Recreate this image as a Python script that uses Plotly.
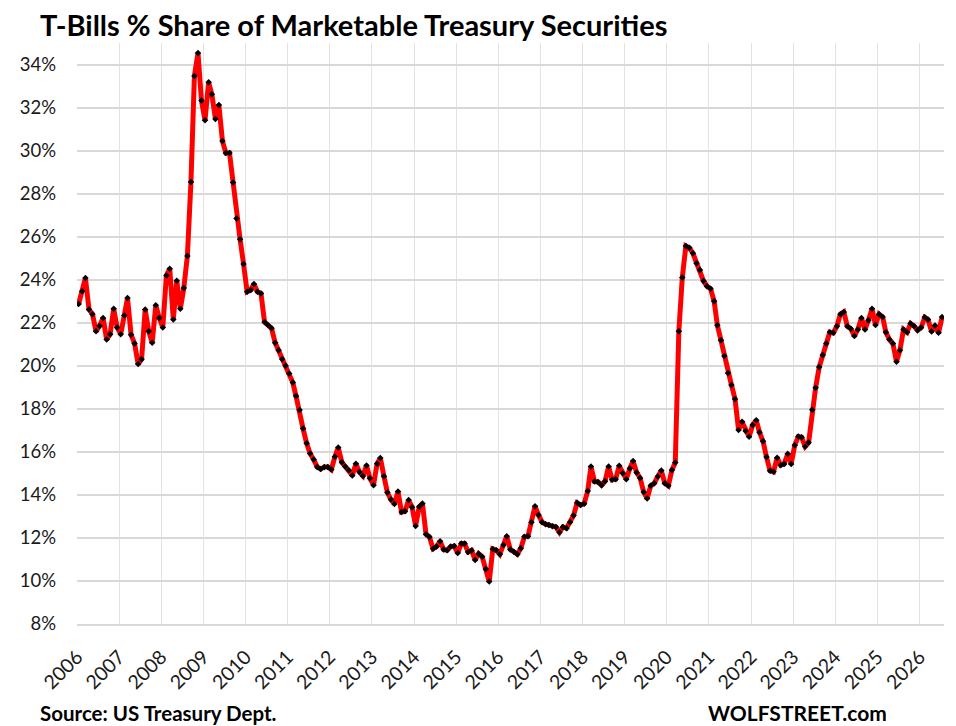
import pandas as pd
import plotly.graph_objects as go

# T-bills as % of marketable Treasury securities, monthly
y2006 = [22.87, 23.46, 24.08, 22.62, 22.40, 21.60, 21.85, 22.22, 21.22, 21.47, 22.65, 21.78]
y2007 = [21.47, 22.34, 23.15, 21.44, 21.04, 20.08, 20.30, 22.62, 21.60, 21.07, 22.81, 22.22]
y2008 = [21.78, 24.20, 24.51, 22.15, 23.95, 22.65, 23.61, 25.10, 28.54, 33.47, 34.53, 32.33]
y2009 = [31.41, 33.18, 32.62, 31.47, 32.12, 30.44, 29.89, 29.89, 28.52, 26.84, 25.88, 24.73]
y2010 = [23.44, 23.52, 23.80, 23.44, 23.36, 22.03, 21.90, 21.74, 21.07, 20.72, 20.30, 20.00]
y2011 = [19.64, 19.22, 18.59, 17.94, 17.08, 16.40, 15.92, 15.64, 15.30, 15.20, 15.30, 15.30]
y2012 = [15.18, 15.77, 16.20, 15.52, 15.32, 15.15, 14.90, 15.45, 15.06, 14.88, 15.37, 14.77]
y2013 = [14.45, 15.45, 15.72, 14.87, 14.11, 13.78, 13.58, 14.16, 13.20, 13.24, 13.76, 13.43]
y2014 = [12.56, 13.45, 13.60, 12.17, 12.04, 11.50, 11.60, 11.84, 11.46, 11.43, 11.60, 11.62]
y2015 = [11.30, 11.74, 11.74, 11.35, 11.42, 10.97, 11.27, 11.12, 10.56, 9.97, 11.49, 11.43]
y2016 = [11.24, 11.67, 12.08, 11.46, 11.36, 11.24, 11.52, 12.05, 12.08, 12.73, 13.47, 13.07]
y2017 = [12.73, 12.64, 12.60, 12.54, 12.51, 12.26, 12.51, 12.45, 12.73, 13.04, 13.63, 13.53]
y2018 = [13.59, 14.18, 15.32, 14.62, 14.60, 14.45, 14.63, 15.32, 14.70, 14.73, 15.35, 15.01]
y2019 = [14.73, 15.23, 15.57, 15.04, 14.79, 14.14, 13.83, 14.42, 14.54, 14.85, 15.13, 14.54]
y2020 = [14.42, 15.16, 15.50, 21.60, 24.10, 25.57, 25.48, 25.23, 24.76, 24.45, 23.94, 23.70]
y2021 = [23.58, 23.00, 21.88, 21.19, 20.45, 19.67, 19.11, 18.46, 17.02, 17.40, 16.97, 16.70]
y2022 = [17.25, 17.47, 16.91, 16.49, 15.76, 15.12, 15.07, 15.73, 15.38, 15.44, 15.91, 15.44]
y2023 = [16.31, 16.71, 16.68, 16.25, 16.43, 17.96, 18.98, 19.94, 20.50, 21.03, 21.56, 21.53]
y2024 = [21.84, 22.40, 22.50, 21.84, 21.72, 21.38, 21.69, 22.22, 21.69, 22.12, 22.65, 21.90]
y2025 = [22.40, 22.27, 21.56, 21.22, 21.03, 20.19, 20.72, 21.69, 21.56, 21.96, 21.84, 21.65]
y2026 = [21.78, 22.25, 22.15, 21.59, 21.87, 21.53, 22.27]

years = [y2006, y2007, y2008, y2009, y2010, y2011, y2012, y2013, y2014, y2015, y2016,
         y2017, y2018, y2019, y2020, y2021, y2022, y2023, y2024, y2025, y2026]
share = [v for yr in years for v in yr]
dates = pd.date_range("2006-01-01", periods=len(share), freq="MS") + pd.Timedelta(days=14)

tick_years = [str(y) for y in range(2006, 2027)]
pct_ticks = list(range(8, 35, 2))

fig = go.Figure()
fig.add_trace(go.Scatter(
    x=dates, y=share, mode="lines+markers",
    line=dict(color="#ff0000", width=5),
    marker=dict(symbol="diamond", size=5, color="#000000"),
))

# page body has an 8px margin, so the figure is sized a bit smaller
fig.update_layout(
    width=948, height=718,
    paper_bgcolor="white", plot_bgcolor="white",
    margin=dict(l=62, r=12, t=35, b=102),
    showlegend=False,
    font=dict(family="Lato, Noto Sans, sans-serif", color="#1a1a1a"),
    annotations=[
        dict(text="<b>T-Bills % Share of Marketable Treasury Securities</b>",
             xref="paper", yref="paper", x=-0.045, y=1.031, xanchor="left", yanchor="middle",
             showarrow=False, font=dict(size=29, color="#000000")),
        dict(text="<b>Source: US Treasury Dept.</b>",
             xref="paper", yref="paper", x=-0.045, y=-0.153, xanchor="left", yanchor="middle",
             showarrow=False, font=dict(size=20.5, color="#000000")),
        dict(text="<b>WOLFSTREET.com</b>",
             xref="paper", yref="paper", x=0.937, y=-0.153, xanchor="right", yanchor="middle",
             showarrow=False, font=dict(size=21, color="#000000")),
    ],
)

fig.update_xaxes(
    range=["2006-01-01", "2026-08-01"],
    tickvals=[f"{y}-01-01" for y in tick_years], ticktext=tick_years,
    tickangle=-45, tickfont=dict(size=19.5),
    showgrid=True, gridcolor="#e3e3e3", gridwidth=1,
    showline=True, linecolor="#d9d9d9", linewidth=2,
    ticks="", ticklabelstandoff=12,
)
fig.update_yaxes(
    range=[8, 35], tickvals=pct_ticks, ticktext=[f"{v}%" for v in pct_ticks],
    tickfont=dict(size=18.5),
    showgrid=True, gridcolor="#d9d9d9", gridwidth=2,
    zeroline=False, ticks="", ticklabelstandoff=20,
)

fig.write_html("out.html")
